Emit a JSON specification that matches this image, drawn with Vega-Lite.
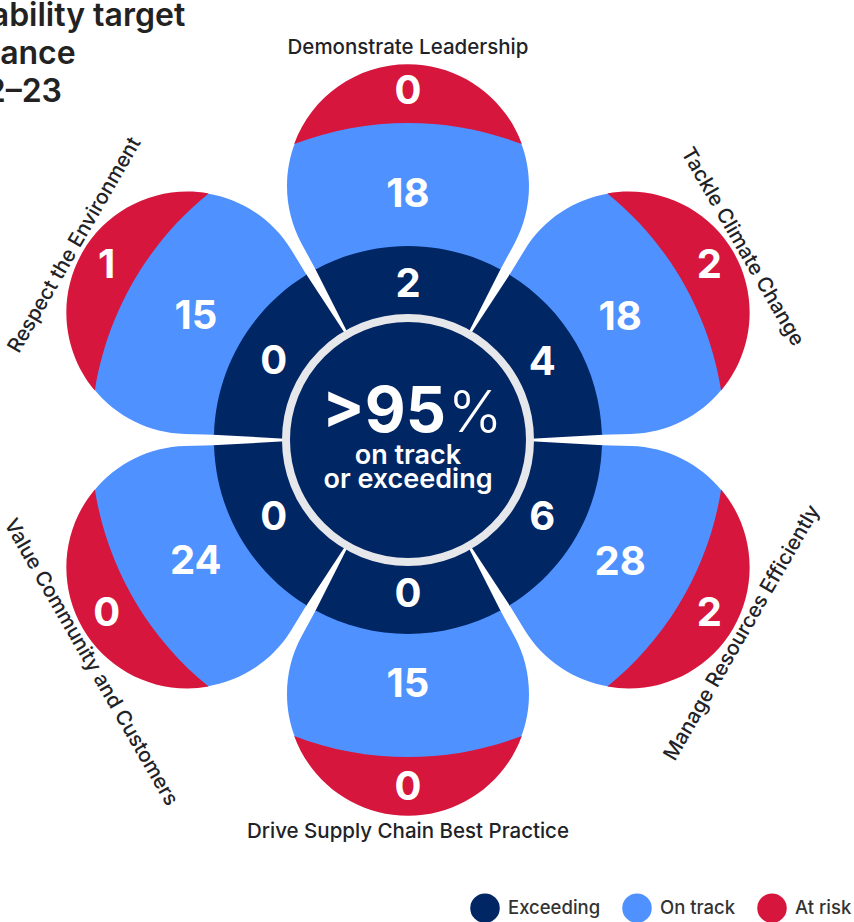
{
  "$schema": "https://vega.github.io/schema/vega-lite/v6.json",
  "autosize": {"type": "none"},
  "width": 816,
  "height": 880,
  "padding": {"left": 0, "top": 0, "right": 38, "bottom": 42},
  "background": "white",
  "config": {"view": {"stroke": null}, "font": "Inter"},
  "title": {
    "text": ["Sustainability target", "performance", "FY 2022–23"],
    "anchor": "start",
    "frame": "group",
    "orient": "top",
    "baseline": "top",
    "offset": 0,
    "dx": -125,
    "dy": 109,
    "fontSize": 32,
    "fontWeight": 600,
    "color": "#222222",
    "lineHeight": 38,
    "font": "Inter"
  },
  "datasets": {
    "bands": [
      {"petal": "Demonstrate Leadership", "category": "Exceeding", "count": 2},
      {"petal": "Tackle Climate Change", "category": "Exceeding", "count": 4},
      {"petal": "Manage Resources Efficiently", "category": "Exceeding", "count": 6},
      {"petal": "Drive Supply Chain Best Practice", "category": "Exceeding", "count": 0},
      {"petal": "Value Community and Customers", "category": "Exceeding", "count": 0},
      {"petal": "Respect the Environment", "category": "Exceeding", "count": 0},
      {"petal": "Demonstrate Leadership", "category": "On track", "count": 18},
      {"petal": "Tackle Climate Change", "category": "On track", "count": 18},
      {"petal": "Manage Resources Efficiently", "category": "On track", "count": 28},
      {"petal": "Drive Supply Chain Best Practice", "category": "On track", "count": 15},
      {"petal": "Value Community and Customers", "category": "On track", "count": 24},
      {"petal": "Respect the Environment", "category": "On track", "count": 15},
      {"petal": "Demonstrate Leadership", "category": "At risk", "count": 0},
      {"petal": "Tackle Climate Change", "category": "At risk", "count": 2},
      {"petal": "Manage Resources Efficiently", "category": "At risk", "count": 2},
      {"petal": "Drive Supply Chain Best Practice", "category": "At risk", "count": 0},
      {"petal": "Value Community and Customers", "category": "At risk", "count": 0},
      {"petal": "Respect the Environment", "category": "At risk", "count": 1}
    ],
    "petals": [
      {"petal": "Demonstrate Leadership", "side": "centre"},
      {"petal": "Tackle Climate Change", "side": "right"},
      {"petal": "Manage Resources Efficiently", "side": "right"},
      {"petal": "Drive Supply Chain Best Practice", "side": "centre"},
      {"petal": "Value Community and Customers", "side": "lower-left"},
      {"petal": "Respect the Environment", "side": "upper-left"}
    ]
  },
  "layer": [
    {
      "data": {"name": "bands"},
      "transform": [{"filter": "datum.category === 'Exceeding'"}],
      "mark": {"type": "point", "filled": true, "opacity": 1, "strokeWidth": 0, "size": 4,
        "shape": "M-60.4,-107.2 L-92.9,-171.5 A195,195 0 0 1 92.9,-171.5 L60.4,-107.2 A123,123 0 0 0 -60.4,-107.2 Z"},
      "encoding": {
        "color": {
          "field": "category", "type": "nominal",
          "scale": {"domain": ["Exceeding", "On track", "At risk"], "range": ["#002664", "#4F92FF", "#D6163C"]},
          "legend": {
            "orient": "none", "legendX": 470, "legendY": 893, "direction": "horizontal",
            "title": null, "symbolType": "circle", "symbolSize": 870, "symbolStrokeWidth": 0, "symbolOpacity": 1,
            "labelFontSize": 18.5, "labelFontWeight": 500, "labelColor": "#333333", "labelFont": "Inter",
            "labelOffset": 8, "columnPadding": 21, "padding": 0
          }
        },
        "angle": {
          "field": "petal", "type": "nominal",
          "scale": {
            "type": "ordinal",
            "domain": ["Demonstrate Leadership", "Tackle Climate Change", "Manage Resources Efficiently", "Drive Supply Chain Best Practice", "Value Community and Customers", "Respect the Environment"],
            "range": [0, 60, 120, 180, 240, 300]
          }
        }
      }
    },
    {
      "data": {"name": "bands"},
      "transform": [{"filter": "datum.category === 'On track'"}],
      "mark": {"type": "point", "filled": true, "opacity": 1, "strokeWidth": 0, "size": 4,
        "shape": "M-92.4,-170.6 L-106.4,-196.3 A121,121 0 0 1 -113.0,-297.2 A318,318 0 0 1 113.0,-297.2 A121,121 0 0 1 106.4,-196.3 L92.4,-170.6 A194,194 0 0 0 -92.4,-170.6 Z"},
      "encoding": {
        "color": {"field": "category", "type": "nominal"},
        "angle": {
          "field": "petal", "type": "nominal",
          "scale": {
            "type": "ordinal",
            "domain": ["Demonstrate Leadership", "Tackle Climate Change", "Manage Resources Efficiently", "Drive Supply Chain Best Practice", "Value Community and Customers", "Respect the Environment"],
            "range": [0, 60, 120, 180, 240, 300]
          }
        }
      }
    },
    {
      "data": {"name": "bands"},
      "transform": [{"filter": "datum.category === 'At risk'"}],
      "mark": {"type": "point", "filled": true, "opacity": 1, "strokeWidth": 0, "size": 4,
        "shape": "M-113.8,-295.9 A121,121 0 0 1 113.8,-295.9 A317,317 0 0 0 -113.8,-295.9 Z"},
      "encoding": {
        "color": {"field": "category", "type": "nominal"},
        "angle": {
          "field": "petal", "type": "nominal",
          "scale": {
            "type": "ordinal",
            "domain": ["Demonstrate Leadership", "Tackle Climate Change", "Manage Resources Efficiently", "Drive Supply Chain Best Practice", "Value Community and Customers", "Respect the Environment"],
            "range": [0, 60, 120, 180, 240, 300]
          }
        }
      }
    },
    {
      "data": {"values": [{"part": "centre"}]},
      "mark": {"type": "point", "shape": "circle", "size": 59536, "filled": true, "fill": "#002664", "opacity": 1, "stroke": "#e6e7ea", "strokeWidth": 8, "strokeOpacity": 1}
    },
    {
      "data": {"name": "bands"},
      "transform": [{"filter": "datum.category === 'Exceeding'"}],
      "mark": {"type": "text", "radius": 155, "fontSize": 40, "fontWeight": 700, "color": "white", "baseline": "middle", "align": "center", "font": "Inter"},
      "encoding": {
        "theta": {"field": "petal", "type": "nominal", "scale": {"type": "point", "padding": 0, "domain": ["Demonstrate Leadership", "Tackle Climate Change", "Manage Resources Efficiently", "Drive Supply Chain Best Practice", "Value Community and Customers", "Respect the Environment"], "range": [0, 5.235988]}},
        "text": {"field": "count", "type": "quantitative"}
      }
    },
    {
      "data": {"name": "bands"},
      "transform": [{"filter": "datum.category === 'On track'"}],
      "mark": {"type": "text", "radius": 245, "fontSize": 40, "fontWeight": 700, "color": "white", "baseline": "middle", "align": "center", "font": "Inter"},
      "encoding": {
        "theta": {"field": "petal", "type": "nominal"},
        "text": {"field": "count", "type": "quantitative"}
      }
    },
    {
      "data": {"name": "bands"},
      "transform": [{"filter": "datum.category === 'At risk'"}],
      "mark": {"type": "text", "radius": 348, "fontSize": 40, "fontWeight": 700, "color": "white", "baseline": "middle", "align": "center", "font": "Inter"},
      "encoding": {
        "theta": {"field": "petal", "type": "nominal"},
        "text": {"field": "count", "type": "quantitative"}
      }
    },
    {
      "data": {"name": "petals"},
      "transform": [{"filter": "datum.side === 'centre'"}],
      "mark": {"type": "text", "radius": 392, "fontSize": 20.5, "fontWeight": 500, "color": "#1f2327", "baseline": "middle", "align": "center", "font": "Inter"},
      "encoding": {
        "theta": {"field": "petal", "type": "nominal"},
        "text": {"field": "petal", "type": "nominal"}
      }
    },
    {
      "data": {"name": "petals"},
      "transform": [{"filter": "datum.side === 'right'"}],
      "mark": {"type": "text", "radius": 386, "fontSize": 20.5, "fontWeight": 500, "color": "#1f2327", "baseline": "middle", "align": "center", "font": "Inter"},
      "encoding": {
        "theta": {"field": "petal", "type": "nominal"},
        "angle": {
          "field": "petal", "type": "nominal",
          "scale": {
            "type": "ordinal",
            "domain": ["Demonstrate Leadership", "Tackle Climate Change", "Manage Resources Efficiently", "Drive Supply Chain Best Practice", "Value Community and Customers", "Respect the Environment"],
            "range": [0, 60, -60, 0, 60, -60]
          }
        },
        "text": {"field": "petal", "type": "nominal"}
      }
    },
    {
      "data": {"name": "petals"},
      "transform": [{"filter": "datum.side === 'upper-left'"}],
      "mark": {"type": "text", "radius": 386, "dx": 2, "fontSize": 20.5, "fontWeight": 500, "color": "#1f2327", "baseline": "middle", "align": "center", "font": "Inter"},
      "encoding": {
        "theta": {"field": "petal", "type": "nominal"},
        "angle": {
          "field": "petal", "type": "nominal",
          "scale": {
            "type": "ordinal",
            "domain": ["Demonstrate Leadership", "Tackle Climate Change", "Manage Resources Efficiently", "Drive Supply Chain Best Practice", "Value Community and Customers", "Respect the Environment"],
            "range": [0, 60, -60, 0, 60, -60]
          }
        },
        "text": {"field": "petal", "type": "nominal"}
      }
    },
    {
      "data": {"name": "petals"},
      "transform": [{"filter": "datum.side === 'lower-left'"}],
      "mark": {"type": "text", "radius": 386, "dx": 34, "fontSize": 20.5, "fontWeight": 500, "color": "#1f2327", "baseline": "middle", "align": "center", "font": "Inter"},
      "encoding": {
        "theta": {"field": "petal", "type": "nominal"},
        "angle": {
          "field": "petal", "type": "nominal",
          "scale": {
            "type": "ordinal",
            "domain": ["Demonstrate Leadership", "Tackle Climate Change", "Manage Resources Efficiently", "Drive Supply Chain Best Practice", "Value Community and Customers", "Respect the Environment"],
            "range": [0, 60, -60, 0, 60, -60]
          }
        },
        "text": {"field": "petal", "type": "nominal"}
      }
    },
    {
      "data": {"values": [{"t": ">95"}]},
      "mark": {"type": "text", "fontSize": 63, "fontWeight": 700, "color": "white", "align": "right", "baseline": "alphabetic", "dx": 38, "dy": -8, "font": "Inter"},
      "encoding": {"text": {"field": "t", "type": "nominal"}}
    },
    {
      "data": {"values": [{"t": "%"}]},
      "mark": {"type": "text", "fontSize": 58, "fontWeight": 300, "color": "white", "align": "left", "baseline": "alphabetic", "dx": 40, "dy": -8, "font": "Inter"},
      "encoding": {"text": {"field": "t", "type": "nominal"}}
    },
    {
      "data": {"values": [{"t": "on track"}]},
      "mark": {"type": "text", "fontSize": 27, "fontWeight": 600, "color": "white", "align": "center", "baseline": "alphabetic", "dy": 24, "font": "Inter"},
      "encoding": {"text": {"field": "t", "type": "nominal"}}
    },
    {
      "data": {"values": [{"t": "or exceeding"}]},
      "mark": {"type": "text", "fontSize": 27, "fontWeight": 600, "color": "white", "align": "center", "baseline": "alphabetic", "dy": 48, "font": "Inter"},
      "encoding": {"text": {"field": "t", "type": "nominal"}}
    }
  ],
  "resolve": {"scale": {"angle": "independent"}}
}
